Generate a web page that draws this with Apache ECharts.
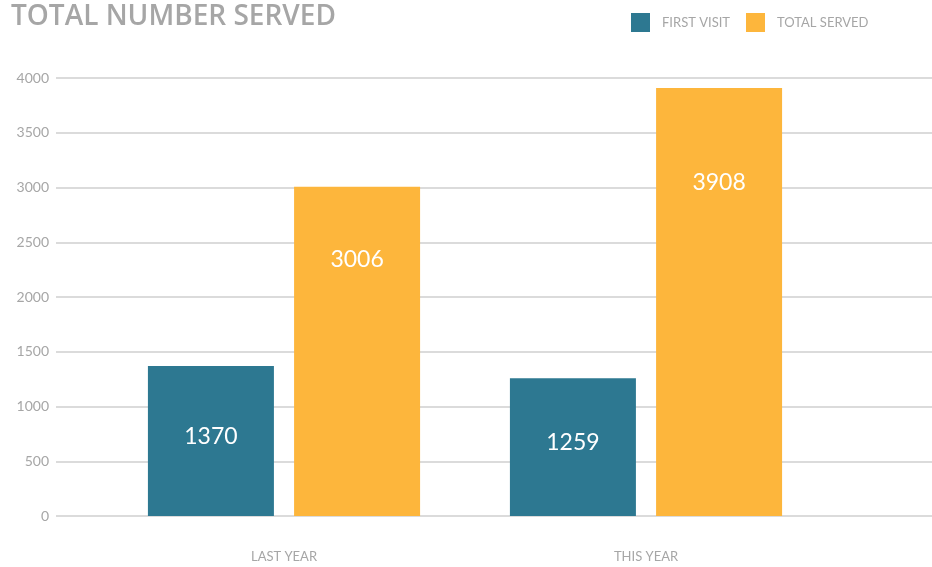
<!DOCTYPE html>
<html>
<head>
<meta charset="utf-8">
<script src="https://cdn.jsdelivr.net/npm/echarts@6/dist/echarts.min.js"></script>
<style>html,body{margin:0;padding:0;background:#fff}#c{width:932px;height:567px}</style>
</head>
<body>
<div id="c"></div>
<script>
const categories = ['LAST YEAR', 'THIS YEAR'];
const firstVisit = [1370, 1259];
const totalServed = [3006, 3908];
const seriesNames = ['FIRST VISIT', 'TOTAL SERVED'];
const yMin = 0, yMax = 4000, yInterval = 500;

const FONT = 'Lato, "Noto Sans", sans-serif';
const chart = echarts.init(document.getElementById('c'), null, {renderer: 'canvas'});
chart.setOption({
  backgroundColor: '#fff',
  animation: false,
  title: {
    text: 'TOTAL NUMBER SERVED',
    left: 6, top: -2,
    textStyle: {color: '#a6a6a6', fontSize: 28, fontWeight: 600, fontFamily: '"Open Sans", sans-serif'}
  },
  legend: {
    data: seriesNames,
    left: 626, top: 8,
    itemWidth: 19, itemHeight: 19, itemGap: 16,
    icon: 'rect',
    textStyle: {color: '#a6a6a6', fontSize: 13, fontFamily: FONT, padding: [0, 0, 0, 7]}
  },
  grid: [
    {left: 56, right: 0, top: 78, bottom: 51},
    {left: 103, right: 105, top: 78, bottom: 51}
  ],
  xAxis: [
    {gridIndex: 0, type: 'category', data: categories, show: false},
    {gridIndex: 1, type: 'category', data: categories,
     axisLine: {show: false}, axisTick: {show: false},
     axisLabel: {color: '#a6a6a6', fontSize: 13, fontFamily: FONT, margin: 34}}
  ],
  yAxis: [
    {gridIndex: 0, type: 'value', min: yMin, max: yMax, interval: yInterval,
     axisLine: {show: false}, axisTick: {show: false},
     axisLabel: {color: '#a6a6a6', fontSize: 14, fontFamily: FONT, margin: 7,
                 formatter: function (v) { return String(v); }},
     splitLine: {lineStyle: {color: '#cfcfcf', width: 1.5}}},
    {gridIndex: 1, type: 'value', min: yMin, max: yMax, interval: yInterval, show: false,
     splitLine: {show: false}}
  ],
  series: [
    {name: seriesNames[0], type: 'bar', xAxisIndex: 1, yAxisIndex: 1, data: firstVisit,
     barWidth: 126, barGap: '16%',
     itemStyle: {color: '#2d7891'},
     label: {show: true, position: ['50%', '47%'], align: 'center', verticalAlign: 'middle',
             color: '#fff', fontSize: 23, fontFamily: FONT}},
    {name: seriesNames[1], type: 'bar', xAxisIndex: 1, yAxisIndex: 1, data: totalServed,
     barWidth: 126, barGap: '16%',
     itemStyle: {color: '#fdb63c'},
     label: {show: true, position: ['50%', '22%'], align: 'center', verticalAlign: 'middle',
             color: '#fff', fontSize: 23, fontFamily: FONT}}
  ]
});
</script>
</body>
</html>
